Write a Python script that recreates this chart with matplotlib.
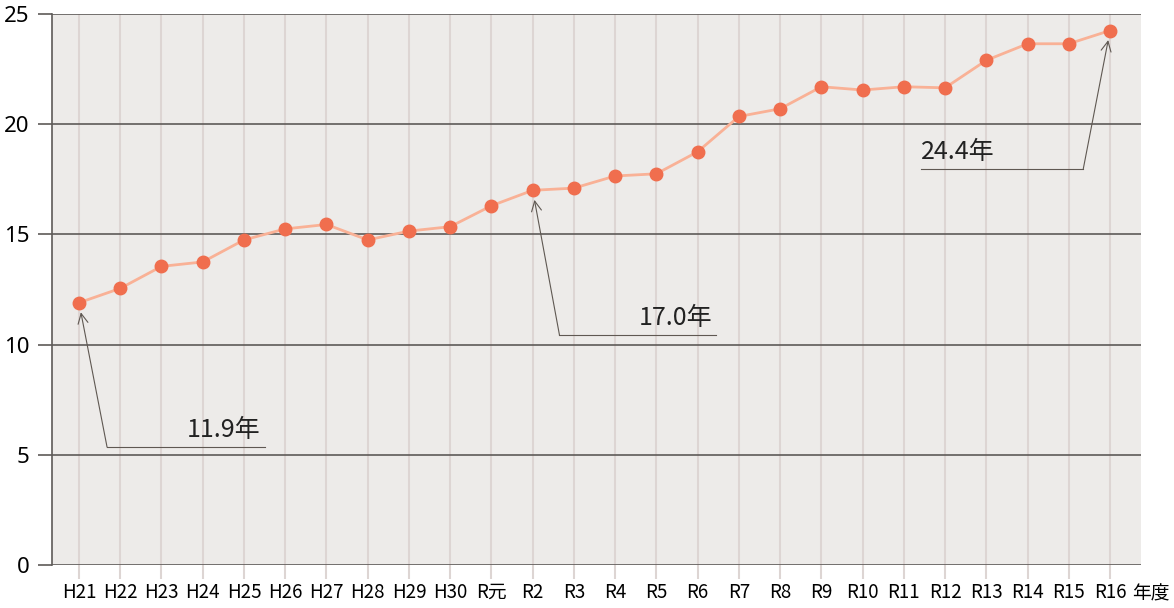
import matplotlib.pyplot as plt

# data
years = ['H21', 'H22', 'H23', 'H24', 'H25', 'H26', 'H27', 'H28', 'H29', 'H30',
         'R元', 'R2', 'R3', 'R4', 'R5', 'R6', 'R7', 'R8', 'R9', 'R10',
         'R11', 'R12', 'R13', 'R14', 'R15', 'R16']
values = [11.9, 12.55, 13.55, 13.75, 14.75, 15.25, 15.45, 14.75, 15.15, 15.35,
          16.3, 17.0, 17.1, 17.65, 17.75, 18.75, 20.35, 20.7, 21.7, 21.55,
          21.7, 21.65, 22.9, 23.65, 23.65, 24.25]
yticks = [0, 5, 10, 15, 20, 25]

# labelled points: (index, text)
notes = [(0, '11.9年'), (11, '17.0年'), (25, '24.4年')]

plt.rcParams['font.family'] = ['Noto Sans CJK JP', 'DejaVu Sans']

fig = plt.figure(figsize=(11.74, 6.08), dpi=100)
ax = fig.add_axes([52 / 1174, 1 - 565 / 608, 1089 / 1174, 551 / 608])
ax.set_facecolor('#edebe9')

x = list(range(len(years)))
ax.plot(x, values, color='#f9b196', lw=2, zorder=3)
ax.plot(x, values, 'o', color='#f06e4e', ms=9, zorder=4)

ax.set_xlim(-0.655, 25.75)
ax.set_ylim(0, 25)
ax.set_xticks(x)
ax.set_xticklabels(years, fontsize=13.5)
ax.set_yticks(yticks)
ax.set_yticklabels([str(t) for t in yticks], family=['Noto Sans', 'DejaVu Sans'], fontsize=16)

# grid
ax.grid(axis='x', color='#ddd5d3', lw=1.5, zorder=1)
ax.grid(axis='y', color='#5e5a58', lw=1.2, zorder=2)
ax.tick_params(axis='x', length=10, width=1.5, color='#ddd5d3', pad=2)
ax.tick_params(axis='y', length=10, width=1.2, color='#5e5a58', pad=6)

for s in ['top', 'right', 'bottom']:
    ax.spines[s].set_visible(False)
ax.spines['left'].set_color('#5e5a58')
ax.spines['left'].set_linewidth(1.2)

ax.text(0.9917, -0.052, '年度', transform=ax.transAxes, fontsize=13.5,
        va='center', ha='left')

# callouts: elbow offset in x, y level of leader, line end, text side
callout_style = {0: (0.68, 5.35, 4.5, 'right'),
                 11: (0.65, 10.43, 15.45, 'right'),
                 25: (-0.65, 17.97, 20.42, 'left')}
lc = '#5f5852'
for i, label in notes:
    dx, ly, xend, side = callout_style[i]
    ex = i + dx
    ax.annotate('', xy=(i, values[i]), xytext=(ex, ly),
                arrowprops=dict(arrowstyle='->', color=lc, lw=0.8,
                                shrinkA=0, shrinkB=7, mutation_scale=18),
                zorder=5)
    ax.plot([ex, xend], [ly, ly], color=lc, lw=0.8, zorder=5)
    tx = xend - 0.1 if side == 'right' else xend
    ax.text(tx, ly + 0.2, label, ha=side, va='bottom', fontsize=18,
            color='#222222', zorder=6)

plt.savefig('out.png', dpi=100)
